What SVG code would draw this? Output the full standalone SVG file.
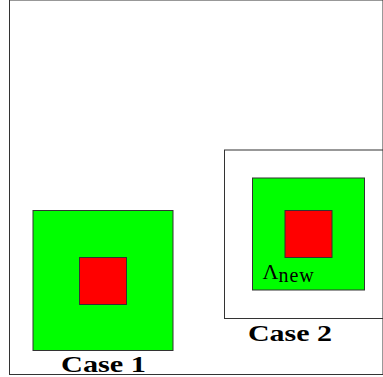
<svg xmlns="http://www.w3.org/2000/svg" width="383" height="377" viewBox="0 0 383 377">
<style>
.g{fill:#00ff00;stroke:#333;stroke-width:1}
.r{fill:#ff0000;stroke:#333;stroke-width:1}
.b{fill:none;stroke:#333;stroke-width:1}
text{font-family:'Liberation Serif','Times New Roman','DejaVu Serif',serif;fill:#000}
.lbl{font-weight:bold;font-size:24px}
</style>
<rect width="383" height="377" fill="#fff"/>
<g id="frame"><rect class="b" x="9.5" y="0" width="373.5" height="374.5"/></g>
<g id="case1">
<rect class="g" x="33" y="210.5" width="140" height="140"/>
<rect class="r" x="79.5" y="257.5" width="47" height="47"/>
<text class="lbl" x="61" y="371.5" textLength="85" lengthAdjust="spacingAndGlyphs">Case 1</text>
</g>
<g id="case2">
<rect class="b" x="224.5" y="150" width="160" height="168.5"/>
<rect class="g" x="252.5" y="178" width="112" height="112"/>
<rect class="r" x="285" y="210.5" width="47" height="47"/>
<text x="262.5" y="278.5" font-size="22">Λ<tspan font-size="20" dy="3" letter-spacing="1">new</tspan></text>
<text class="lbl" x="248" y="340.5" textLength="84" lengthAdjust="spacingAndGlyphs">Case 2</text>
</g>
<g id="connectors"/>
</svg>
